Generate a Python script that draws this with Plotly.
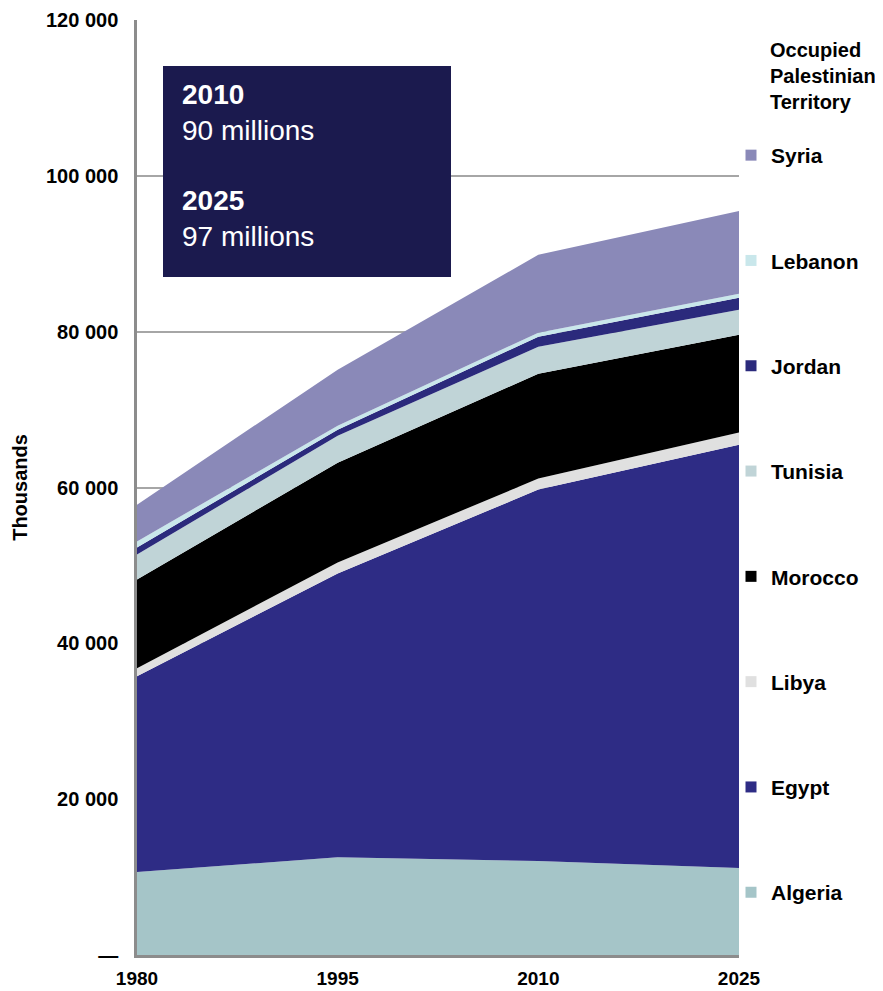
import plotly.graph_objects as go

years = [1980, 1995, 2010, 2025]

# Series values (thousands), bottom to top of the stack
algeria = [10640, 12560, 12050, 11150]
egypt = [25130, 36400, 47690, 54350]
libya = [1030, 1410, 1410, 1550]
morocco = [11400, 12820, 13450, 12550]
tunisia = [3200, 3460, 3470, 3200]
jordan = [900, 770, 1290, 1560]
lebanon = [780, 520, 510, 510]
syria = [4720, 7180, 10000, 10630]

series_names = ["Algeria", "Egypt", "Libya", "Morocco", "Tunisia", "Jordan", "Lebanon", "Syria"]
series_values = [algeria, egypt, libya, morocco, tunisia, jordan, lebanon, syria]
series_colors = ["#a5c5c8", "#2e2c85", "#e0e0e0", "#000000", "#c0d4d7", "#2b2a7c", "#c9e7eb", "#8a89b8"]

y_tickvals = [0, 20000, 40000, 60000, 80000, 100000, 120000]
y_ticktext = ["—", "20 000", "40 000", "60 000", "80 000", "100 000", "120 000"]
x_tickvals = [1980, 1995, 2010, 2025]

box_lines = [("2010", "90 millions"), ("2025", "97 millions")]
opt_label = "Occupied<br>Palestinian<br>Territory"

FONT = "Liberation Sans, Arial, sans-serif"

fig = go.Figure()

for name, vals, col in zip(series_names, series_values, series_colors):
    fig.add_trace(go.Scatter(
        x=years, y=vals, stackgroup="one", mode="none",
        fillcolor=col, name=name, showlegend=False, hoverinfo="x+y+name",
    ))

# legend entries (top to bottom)
for name, col in reversed(list(zip(series_names, series_colors))):
    fig.add_trace(go.Scatter(
        x=[None], y=[None], mode="markers",
        marker=dict(symbol="square", size=11, color=col, line=dict(width=0)),
        name=name, legendgroup=name, showlegend=True,
    ))

# page body has an 8px margin; plot box in screen pixels
OFF = 8
SL, SR, ST, SB = 137, 739, 20, 955
W, H = 883 - OFF, 991 - OFF
pw, ph = SR - SL, SB - ST


def px_x(p):
    return (p - SL) / pw


def px_y(p):
    return (SB - p) / ph


fig.update_layout(
    width=W, height=H,
    margin=dict(l=SL - OFF, r=W - (SR - OFF), t=ST - OFF, b=H - (SB - OFF), pad=0, autoexpand=False),
    paper_bgcolor="white", plot_bgcolor="white",
    font=dict(family=FONT, color="black"),
    showlegend=True,
    legend=dict(
        x=px_x(731), xanchor="left", y=px_y(135), yanchor="top",
        traceorder="grouped", tracegroupgap=75,
        font=dict(family=FONT, size=21, color="black", weight="bold"),
        bgcolor="rgba(0,0,0,0)", borderwidth=0, itemclick=False,
    ),
    xaxis=dict(
        range=[1980, 2025], tickvals=x_tickvals, ticktext=[str(v) for v in x_tickvals],
        showgrid=False, zeroline=False, showline=True, linecolor="#8c8c8c", linewidth=2.5,
        ticks="", ticklabelstandoff=4, automargin=False,
        tickfont=dict(family=FONT, size=19, color="black", weight="bold"),
    ),
    yaxis=dict(
        range=[0, 120000], tickvals=y_tickvals, ticktext=y_ticktext,
        showgrid=True, gridcolor="#a6a6a6", gridwidth=1.5, zeroline=False,
        showline=True, linecolor="#8c8c8c", linewidth=2.5,
        ticks="", ticklabelstandoff=12, automargin=False,
        tickfont=dict(family=FONT, size=20, color="black", weight="bold"),
        title=dict(text="Thousands", standoff=13,
                   font=dict(family=FONT, size=20, color="black", weight="bold")),
    ),
)

# dark info box
fig.add_shape(type="rect", xref="paper", yref="paper",
              x0=px_x(163), x1=px_x(451), y0=px_y(277), y1=px_y(66),
              fillcolor="#1b1a4e", line=dict(width=0), layer="above")

for (yr, txt), cy in zip(box_lines, [112.5, 218]):
    fig.add_annotation(
        xref="paper", yref="paper", x=px_x(180), y=px_y(cy),
        xanchor="left", yanchor="middle", align="left", showarrow=False,
        text=f"<b>{yr}</b><br>{txt}",
        font=dict(family=FONT, size=28, color="white"),
    )

fig.add_annotation(
    xref="paper", yref="paper", x=px_x(768), y=px_y(76),
    xanchor="left", yanchor="middle", align="left", showarrow=False,
    text=f"<b>{opt_label}</b>",
    font=dict(family=FONT, size=20, color="black"),
)

fig.write_html("out.html")
